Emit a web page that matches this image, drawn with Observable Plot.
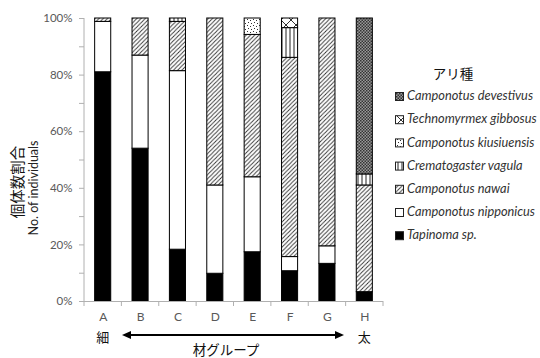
<!DOCTYPE html>
<html><head><meta charset="utf-8">
<script src="https://cdn.jsdelivr.net/npm/d3@7"></script>
<script src="https://cdn.jsdelivr.net/npm/@observablehq/plot@0.6"></script>
<style>body{margin:0;background:#fff}#chart{width:540px;height:358px}</style>
</head><body><div id="chart"></div>
<script>
const groups = ["A","B","C","D","E","F","G","H"];
const species = ["Tapinoma sp.","Camponotus nipponicus","Camponotus nawai","Crematogaster vagula","Camponotus kiusiuensis","Technomyrmex gibbosus","Camponotus devestivus"];
const tapinoma    = [81.0,54.0,18.3, 9.8,17.4,10.7,13.3, 3.3];
const nipponicus  = [17.8,32.9,63.1,31.2,26.5, 5.0, 6.2, 0];
const nawai       = [ 1.2,13.1,17.4,59.0,50.3,70.4,80.5,37.7];
const vagula      = [ 0,   0,   1.2, 0,   0,  10.5, 0,   3.9];
const kiusiuensis = [ 0,   0,   0,   0,   5.8, 0,   0,   0];
const gibbosus    = [ 0,   0,   0,   0,   0,   3.4, 0,   0];
const devestivus  = [ 0,   0,   0,   0,   0,   0,   0,  55.1];
const yTicks = [0,10,20,30,40,50,60,70,80,90,100];
const legendTitle = "アリ種";
const yLabelJa = "個体数割合";
const yLabelEn = "No. of individuals";
const xLabel = "材グループ";
const thinLabel = "細";
const thickLabel = "太";

const series = [tapinoma, nipponicus, nawai, vagula, kiusiuensis, gibbosus, devestivus];
const fills = ["black","white","url(#p-nawai)","url(#p-vagula)","url(#p-kius)","url(#p-gibb)","url(#p-deve)"];
const data = groups.flatMap((g,i) => species.map((s,j) => ({group:g, species:s, value:series[j][i]}))).filter(d => d.value > 0);

const chart = Plot.plot({
  width:540, height:358, marginLeft:84, marginRight:157, marginTop:18, marginBottom:57,
  style:{fontFamily:"Lato, 'Open Sans', sans-serif", fontSize:"11px", color:"#595959", background:"white"},
  x:{domain:groups, paddingInner:0.57, paddingOuter:0.285, round:false, label:null},
  y:{domain:[0,100], label:null},
  color:{domain:species, range:fills},
  marks:[
    Plot.barY(data, {x:"group", y:"value", fill:"species", order:species, stroke:"black", strokeWidth:1}),
    Plot.ruleY([0], {stroke:"#b0b0b0"}),
    Plot.axisY({ticks:yTicks, tickFormat:d => d % 20 === 0 ? d + "%" : "", tickSize:5, tickPadding:7, stroke:"#b0b0b0", fill:"#595959", label:null, fontSize:11.5}),
    Plot.axisX({tickSize:0, tickPadding:11, fill:"#595959", label:null, fontSize:12})
  ]
});
document.getElementById("chart").appendChild(chart);

const svg = d3.select(chart);
const xs = chart.scale("x"), ys = chart.scale("y");
const defs = svg.insert("defs", ":first-child");
// patterns
let p = defs.append("pattern").attr("id","p-nawai").attr("patternUnits","userSpaceOnUse").attr("width",4.2).attr("height",4.2);
p.append("rect").attr("width",4.2).attr("height",4.2).attr("fill","white");
p.append("path").attr("d","M0,4.2L4.2,0M-1,1L1,-1M3.2,5.2L5.2,3.2").attr("stroke","#333").attr("stroke-width",0.9);
p = defs.append("pattern").attr("id","p-vagula").attr("patternUnits","userSpaceOnUse").attr("width",4).attr("height",4);
p.append("rect").attr("width",4).attr("height",4).attr("fill","white");
p.append("path").attr("d","M2,0V4").attr("stroke","#222").attr("stroke-width",1);
p = defs.append("pattern").attr("id","p-kius").attr("patternUnits","userSpaceOnUse").attr("width",6).attr("height",6);
p.append("rect").attr("width",6).attr("height",6).attr("fill","white");
[[1,1],[4,2],[2,4],[5,5]].forEach(([cx,cy]) => p.append("rect").attr("x",cx).attr("y",cy).attr("width",1).attr("height",1).attr("fill","#333"));
p = defs.append("pattern").attr("id","p-gibb").attr("patternUnits","userSpaceOnUse").attr("width",10).attr("height",10).attr("x",1).attr("y",0);
p.append("rect").attr("width",10).attr("height",10).attr("fill","white");
p.append("path").attr("d","M0,0L10,10M10,0L0,10").attr("stroke","#333").attr("stroke-width",1);
p = defs.append("pattern").attr("id","p-deve").attr("patternUnits","userSpaceOnUse").attr("width",3).attr("height",3);
p.append("rect").attr("width",3).attr("height",3).attr("fill","#9a9a9a");
p.append("rect").attr("width",1.5).attr("height",1.5).attr("fill","#333");
p.append("rect").attr("x",1.5).attr("y",1.5).attr("width",1.5).attr("height",1.5).attr("fill","#333");

// left axis line
const y0 = ys.apply(0), y100 = ys.apply(100);
const xr = xs.range;
svg.append("line").attr("x1",xr[0]).attr("x2",xr[0]).attr("y1",y0).attr("y2",y100).attr("stroke","#b0b0b0");
// band boundary ticks
const half = (xs.step - xs.bandwidth) / 2;
const bounds = groups.map(g => xs.apply(g) - half).concat([xs.apply(groups[groups.length-1]) + xs.bandwidth + half]);
bounds.forEach(b => svg.append("line").attr("x1",b).attr("x2",b).attr("y1",y0).attr("y2",y0+5).attr("stroke","#b0b0b0"));

// y labels
svg.append("text").attr("transform","translate(19,182) rotate(-90)").attr("text-anchor","middle").attr("dominant-baseline","middle")
  .attr("font-family","'Noto Sans CJK JP', sans-serif").attr("font-size",14.5).attr("fill","#111").text(yLabelJa);
svg.append("text").attr("transform","translate(35,188) rotate(-90)").attr("text-anchor","middle").attr("dominant-baseline","middle")
  .attr("font-family","Lato, sans-serif").attr("font-size",12.5).attr("fill","#222").text(yLabelEn);

// bottom labels + arrow
const cA = xs.apply(groups[0]) + xs.bandwidth/2, cH = xs.apply(groups[groups.length-1]) + xs.bandwidth/2;
const jp = "'Noto Sans CJK JP', sans-serif";
svg.append("text").attr("x",cA).attr("y",338).attr("text-anchor","middle").attr("dominant-baseline","middle").attr("font-family",jp).attr("font-size",13).attr("fill","#111").text(thinLabel);
svg.append("text").attr("x",cH).attr("y",338).attr("text-anchor","middle").attr("dominant-baseline","middle").attr("font-family",jp).attr("font-size",13).attr("fill","#111").text(thickLabel);
svg.append("text").attr("x",226).attr("y",351).attr("text-anchor","middle").attr("dominant-baseline","middle").attr("font-family",jp).attr("font-size",13.5).attr("fill","#111").text(xLabel);
const ax1 = 122, ax2 = 344, ay = 335;
svg.append("line").attr("x1",ax1+6).attr("x2",ax2-6).attr("y1",ay).attr("y2",ay).attr("stroke","black").attr("stroke-width",2);
svg.append("path").attr("d",`M${ax1},${ay}L${ax1+9},${ay-4}L${ax1+9},${ay+4}Z M${ax2},${ay}L${ax2-9},${ay-4}L${ax2-9},${ay+4}Z`).attr("fill","black");

// legend
const lg = svg.append("g").attr("text-anchor","start");
lg.append("text").attr("x",453).attr("y",75).attr("text-anchor","middle").attr("dominant-baseline","middle").attr("font-family",jp).attr("font-size",13.5).attr("fill","#111").text(legendTitle);
species.slice().reverse().forEach((s,i) => {
  const j = species.indexOf(s);
  const yy = 97 + i*23.2;
  lg.append("rect").attr("x",395.5).attr("y",yy-4.5).attr("width",8).attr("height",8).attr("fill",fills[j]).attr("stroke","#222").attr("stroke-width",1);
  lg.append("text").attr("x",407).attr("y",yy).attr("text-anchor","start").attr("dominant-baseline","middle").attr("font-family","Lato, sans-serif").attr("font-style","italic").attr("font-size",12.8).attr("fill","#333").text(s);
});
</script>
</body></html>
